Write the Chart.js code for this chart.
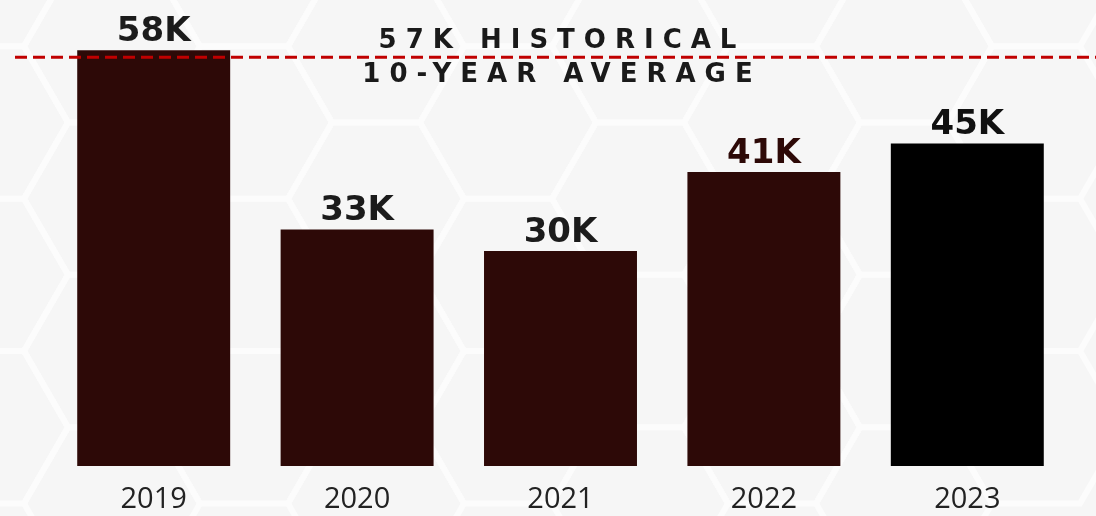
<!DOCTYPE html>
<html>
<head>
<meta charset="utf-8">
<script src="https://cdn.jsdelivr.net/npm/chart.js@4.4.0/dist/chart.umd.min.js"></script>
<style>
  html, body { margin: 0; padding: 0; background: #f6f6f6; }
  canvas { display: block; }
</style>
</head>
<body>
<canvas id="myChart" width="1096" height="516"></canvas>
<script>
// yearly totals, in thousands
var years = ['2019', '2020', '2021', '2022', '2023'];
var totals = [58, 33, 30, 41, 45];
var valueLabels = ['58K', '33K', '30K', '41K', '45K'];
var tenYearAverage = 57;
var averageText = ['57K HISTORICAL', '10-YEAR AVERAGE'];

var barColors = ['#2d0907', '#2d0907', '#2d0907', '#2d0907', '#000000'];
var labelColors = ['#1b1b1b', '#1b1b1b', '#1b1b1b', '#2d0907', '#111111'];

// faint honeycomb backdrop
var hexBackground = {
  id: 'hexBackground',
  beforeDraw: function(chart) {
    var ctx = chart.ctx;
    var w = chart.width, h = chart.height;
    ctx.save();
    ctx.fillStyle = '#f6f6f6';
    ctx.fillRect(0, 0, w, h);
    var r = 88;
    var dx = r * 1.5, dy = r * Math.sqrt(3);
    ctx.strokeStyle = '#fcfcfc';
    ctx.lineWidth = 6;
    for (var col = -1; col * dx < w + r; col++) {
      for (var row = -1; row * dy < h + r; row++) {
        var cx = col * dx - 20;
        var cy = row * dy + (col % 2 ? dy / 2 : 0) - 30;
        ctx.beginPath();
        for (var k = 0; k < 6; k++) {
          var a = Math.PI / 3 * k;
          var px = cx + r * Math.cos(a), py = cy + r * Math.sin(a);
          if (k === 0) ctx.moveTo(px, py); else ctx.lineTo(px, py);
        }
        ctx.closePath();
        ctx.stroke();
      }
    }
    ctx.restore();
  }
};

// dashed average line with its caption, plus value labels over the bars
var overlays = {
  id: 'overlays',
  afterDatasetsDraw: function(chart) {
    var ctx = chart.ctx;
    var y = chart.scales.y.getPixelForValue(tenYearAverage);
    ctx.save();
    ctx.strokeStyle = '#c00000';
    ctx.lineWidth = 3;
    ctx.setLineDash([12, 6]);
    ctx.beginPath();
    ctx.moveTo(15, y);
    ctx.lineTo(chart.width, y);
    ctx.stroke();
    ctx.setLineDash([]);

    var midX = 558;
    ctx.fillStyle = '#1a1a1a';
    ctx.font = 'bold 26px "DejaVu Sans"';
    ctx.letterSpacing = '9px';
    ctx.textAlign = 'center';
    ctx.textBaseline = 'alphabetic';
    ctx.fillText(averageText[0], midX + 4, y - 9);
    ctx.textBaseline = 'top';
    ctx.fillText(averageText[1], midX + 4, y + 5);
    ctx.letterSpacing = '0px';

    var meta = chart.getDatasetMeta(0);
    ctx.font = 'bold 34px "DejaVu Sans"';
    ctx.textBaseline = 'alphabetic';
    meta.data.forEach(function(bar, i) {
      ctx.fillStyle = labelColors[i];
      ctx.fillText(valueLabels[i], bar.x, bar.y - 9);
    });
    ctx.restore();
  }
};

var ctx = document.getElementById('myChart').getContext('2d');
var chart = new Chart(ctx, {
  type: 'bar',
  data: {
    labels: years,
    datasets: [
      {
        data: totals,
        backgroundColor: barColors,
        borderWidth: 0,
        barPercentage: 0.752,
        categoryPercentage: 1
      }
    ]
  },
  options: {
    responsive: false,
    animation: false,
    layout: {
      padding: { left: 52, right: 27, top: 0, bottom: 0 }
    },
    plugins: {
      legend: { display: false },
      tooltip: { enabled: false }
    },
    scales: {
      x: {
        grid: { display: false, drawTicks: false },
        border: { display: false },
        ticks: {
          padding: 16,
          color: '#222222',
          font: { family: '"Open Sans"', size: 29 }
        },
        afterFit: function(scale) {
          scale.height = 50;
        }
      },
      y: {
        display: false,
        min: 0,
        max: 65
      }
    }
  },
  plugins: [hexBackground, overlays]
});
</script>
</body>
</html>
